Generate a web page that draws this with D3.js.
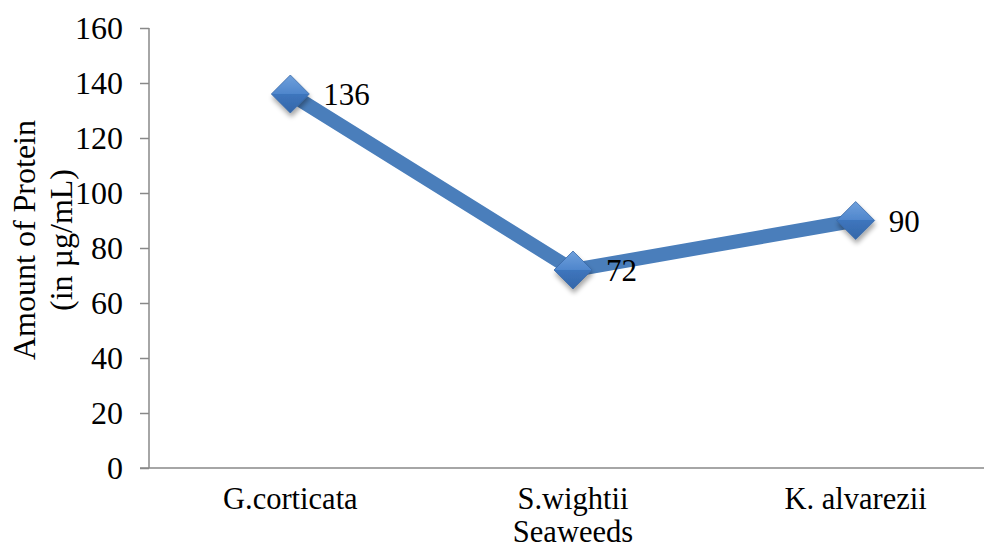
<!DOCTYPE html>
<html><head><meta charset="utf-8">
<script src="https://cdn.jsdelivr.net/npm/d3@7"></script>
<style>body{margin:0;background:#fff}svg{display:block}text{font-family:"Liberation Serif","Times New Roman",serif;fill:#000}</style>
</head><body><svg id="c" width="984" height="549"></svg>
<script>
const categories = ["G.corticata", "S.wightii", "K. alvarezii"];
const values = [136, 72, 90];
const yTicks = [0, 20, 40, 60, 80, 100, 120, 140, 160];
const yTitle = ["Amount of Protein", "(in µg/mL)"];
const xTitle = "Seaweeds";

const svg = d3.select("#c");
const m = {l:149, r:997, t:28, b:468};
const x = d3.scaleBand().domain(categories).range([m.l, m.r]);
const y = d3.scaleLinear().domain([0,160]).range([m.b, m.t]);
const FS = "32px";
const XFS = "30.5px";

const defs = svg.append("defs");
const g1 = defs.append("linearGradient").attr("id","dg").attr("x1",0).attr("y1",0).attr("x2",0).attr("y2",1);
g1.append("stop").attr("offset","0").attr("stop-color","#6fa0dc");
g1.append("stop").attr("offset","0.5").attr("stop-color","#4f86cc");
g1.append("stop").attr("offset","0.5").attr("stop-color","#3e75bd");
g1.append("stop").attr("offset","1").attr("stop-color","#3467a9");
const f = defs.append("filter").attr("id","sh").attr("x","-50%").attr("y","-50%").attr("width","200%").attr("height","200%");
f.append("feGaussianBlur").attr("in","SourceAlpha").attr("stdDeviation",2.5);
f.append("feOffset").attr("dx",1).attr("dy",4).attr("result","b");
f.append("feComponentTransfer").append("feFuncA").attr("type","linear").attr("slope",0.35);
const mg = f.append("feMerge"); mg.append("feMergeNode"); mg.append("feMergeNode").attr("in","SourceGraphic");

// y axis
const ya = svg.append("g").attr("transform",`translate(${m.l},0)`)
  .call(d3.axisLeft(y).tickValues(yTicks).tickSize(9).tickPadding(17));
ya.select(".domain").attr("stroke","#888").attr("stroke-width",1.5).attr("d",`M0,${m.t}V${m.b}`);
ya.selectAll(".tick line").attr("stroke","#888").attr("stroke-width",1.5);
ya.selectAll(".tick text").style("font-family","Liberation Serif").style("font-size",FS).attr("fill","#000");

// x axis
const xa = svg.append("g").attr("transform",`translate(0,${m.b})`)
  .call(d3.axisBottom(x).tickSize(0).tickPadding(19));
xa.select(".domain").attr("stroke","#888").attr("stroke-width",1.5).attr("d",`M${m.l-9},0H984`);
xa.selectAll(".tick text").style("font-family","Liberation Serif").style("font-size",XFS).attr("fill","#000");

svg.append("text").attr("x",x("S.wightii")+x.bandwidth()/2).attr("y",542)
  .attr("text-anchor","middle").style("font-size",XFS).text(xTitle);

const yt = svg.append("text").attr("transform",`translate(0,240) rotate(-90)`).attr("text-anchor","middle").style("font-size",FS);
yt.append("tspan").attr("x",0).attr("y",35).text(yTitle[0]);
yt.append("tspan").attr("x",0).attr("y",72).text(yTitle[1]);

const cx = d => x(d)+x.bandwidth()/2;
const pts = categories.map((c,i)=>[cx(c), y(values[i])]);
svg.append("path").attr("d", d3.line()(pts)).attr("fill","none")
  .attr("stroke","#4a7ebb").attr("stroke-width",14).attr("stroke-linejoin","round");

const s = 19;
svg.selectAll("path.mk").data(pts).join("path").attr("class","mk")
  .attr("d", d=>`M${d[0]},${d[1]-s}L${d[0]+s},${d[1]}L${d[0]},${d[1]+s}L${d[0]-s},${d[1]}Z`)
  .attr("fill","url(#dg)").attr("stroke","#3a6aa8").attr("stroke-width",0.8).attr("filter","url(#sh)");

svg.selectAll("text.lb").data(values).join("text").attr("class","lb")
  .attr("x",(d,i)=>pts[i][0]+33).attr("y",(d,i)=>pts[i][1]+11)
  .style("font-size","31px").text(d=>d);
</script></body></html>
